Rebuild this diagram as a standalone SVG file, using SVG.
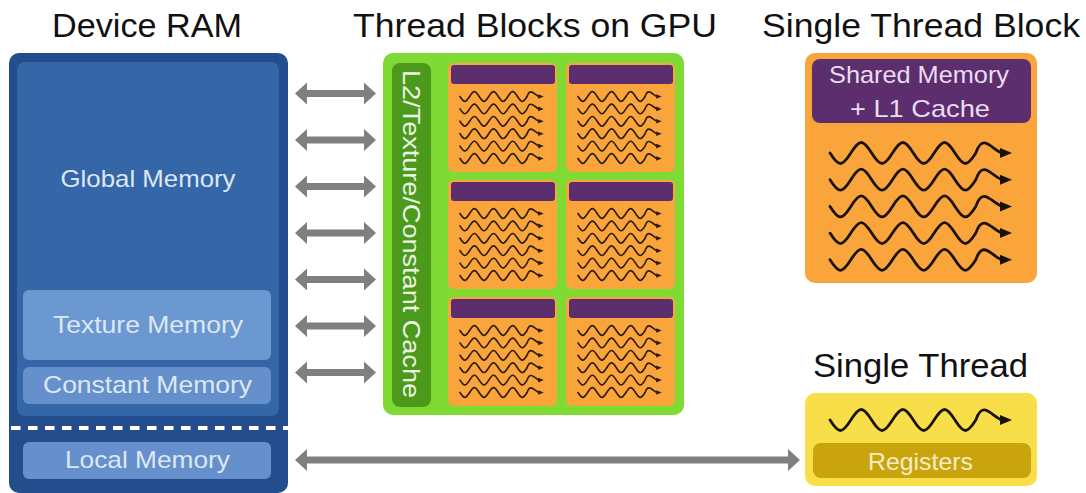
<svg xmlns="http://www.w3.org/2000/svg" xmlns:xlink="http://www.w3.org/1999/xlink" width="1086" height="493" viewBox="0 0 1086 493">
  <style>
    .title { font-family: "Liberation Sans", "DejaVu Sans", sans-serif; font-size: 34px; fill: #111; text-anchor: middle; }
    .lbl { font-family: "Liberation Sans", "DejaVu Sans", sans-serif; font-size: 24px; text-anchor: middle; }
    .mem-label { fill: #dde7f5; }
    .ram-outer { fill: #234d8c; }
    .ram-inner { fill: #3566a8; }
    .ram-sub { fill: #6b98d0; }
    .gpu { fill: #80da34; }
    .l2 { fill: #4c9a1c; }
    .blk { fill: #f9a53c; }
    .shm { fill: #5c2e6e; }
    .thread-big { stroke: #1a120a; stroke-width: 2.8; fill: #1a120a; }
    .thread-small { stroke: #2e1c0c; stroke-width: 3.6; fill: #2e1c0c; }
    .bus { fill: #7f7f7f; }
  </style>
  <defs>
    <!-- one thread: a wavy line ending in an arrowhead, origin at its left end -->
    <g id="wave">
      <path fill="none" stroke-linecap="round" d="M0,0 c8.84,14 11.99,14 20.83,0 s11.99,-14 20.83,0 s11.99,14 20.83,0 s11.99,-14 20.83,0 s11.99,14 20.83,0 s11.99,-14 20.83,0 s11.99,14 20.83,0 C153,-21 162,-3 172,0"/>
      <path stroke="none" d="M170,-5 L182,0 L170,5 Z"/>
    </g>
    <!-- short double-headed bus arrow centred on the origin -->
    <path id="bus" d="M-40.5,0 L-28.5,-11 L-28.5,-3.5 L28.5,-3.5 L28.5,-11 L40.5,0 L28.5,11 L28.5,3.5 L-28.5,3.5 L-28.5,11 Z"/>
    <!-- one thread block inside the GPU: cache bar plus six threads -->
    <g id="block">
      <rect class="blk" x="0" y="0" width="109" height="109" rx="6"/>
      <rect class="shm" x="3" y="2" width="104" height="19" rx="3"/>
      <use xlink:href="#wave" class="thread-small" transform="translate(12,33.5) scale(0.46)"/>
      <use xlink:href="#wave" class="thread-small" transform="translate(12,45.9) scale(0.46)"/>
      <use xlink:href="#wave" class="thread-small" transform="translate(12,58.3) scale(0.46)"/>
      <use xlink:href="#wave" class="thread-small" transform="translate(12,70.7) scale(0.46)"/>
      <use xlink:href="#wave" class="thread-small" transform="translate(12,83.1) scale(0.46)"/>
      <use xlink:href="#wave" class="thread-small" transform="translate(12,95.5) scale(0.46)"/>
    </g>
  </defs>

  <!-- headings -->
  <text class="title" x="147" y="37" textLength="190" lengthAdjust="spacingAndGlyphs">Device RAM</text>
  <text class="title" x="535" y="37" textLength="364" lengthAdjust="spacingAndGlyphs">Thread Blocks on GPU</text>
  <text class="title" x="921" y="37" textLength="318" lengthAdjust="spacingAndGlyphs">Single Thread Block</text>
  <text class="title" x="920.5" y="377" textLength="215" lengthAdjust="spacingAndGlyphs">Single Thread</text>

  <!-- device memory -->
  <g id="device-ram">
    <rect class="ram-outer" x="9" y="53" width="279" height="440" rx="10"/>
    <rect class="ram-inner" x="17" y="62" width="262" height="354" rx="8"/>
    <text class="lbl mem-label" x="148" y="186.5" textLength="175" lengthAdjust="spacingAndGlyphs">Global Memory</text>
    <line x1="11" y1="428" x2="288" y2="428" stroke="#ffffff" stroke-width="4" stroke-dasharray="9.5 7.5"/>
  </g>
  <g id="texture-memory">
    <rect class="ram-sub" x="23" y="290" width="248" height="70" rx="6"/>
    <text class="lbl mem-label" x="148" y="332.5" textLength="190" lengthAdjust="spacingAndGlyphs">Texture Memory</text>
  </g>
  <g id="constant-memory">
    <rect class="ram-sub" x="23" y="367" width="248" height="37" rx="6" style="fill:#6590cb"/>
    <text class="lbl mem-label" x="147.5" y="392.5" textLength="209" lengthAdjust="spacingAndGlyphs">Constant Memory</text>
  </g>
  <g id="local-memory">
    <rect class="ram-sub" x="23" y="442" width="248" height="37" rx="6" style="fill:#6590cb"/>
    <text class="lbl mem-label" x="147.5" y="468" textLength="165" lengthAdjust="spacingAndGlyphs">Local Memory</text>
  </g>

  <!-- GPU with its thread blocks -->
  <g id="gpu">
    <rect class="gpu" x="383" y="53" width="301" height="362" rx="10"/>
  </g>
  <g id="l2-cache">
    <rect class="l2" x="392" y="63" width="39" height="344" rx="8"/>
    <text class="lbl" fill="#eef5e6" transform="translate(403,234) rotate(90)" textLength="328" lengthAdjust="spacingAndGlyphs">L2/Texture/Constant Cache</text>
  </g>
  <g id="block-1-1"><use xlink:href="#block" x="448" y="63"/></g>
  <g id="block-1-2"><use xlink:href="#block" x="566" y="63"/></g>
  <g id="block-2-1"><use xlink:href="#block" x="448" y="180"/></g>
  <g id="block-2-2"><use xlink:href="#block" x="566" y="180"/></g>
  <g id="block-3-1"><use xlink:href="#block" x="448" y="297"/></g>
  <g id="block-3-2"><use xlink:href="#block" x="566" y="297"/></g>

  <!-- enlarged thread block -->
  <g id="single-thread-block">
    <rect class="blk" x="805" y="53" width="232" height="230" rx="10"/>
    <rect class="shm" x="812" y="59" width="219" height="64" rx="8"/>
    <text class="lbl" fill="#eadcf2" x="919" y="83" textLength="180" lengthAdjust="spacingAndGlyphs">Shared Memory</text>
    <text class="lbl" fill="#eadcf2" x="920" y="117" textLength="140" lengthAdjust="spacingAndGlyphs">+ L1 Cache</text>
    <use xlink:href="#wave" class="thread-big" transform="translate(830,153)"/>
    <use xlink:href="#wave" class="thread-big" transform="translate(830,179.7)"/>
    <use xlink:href="#wave" class="thread-big" transform="translate(830,206.4)"/>
    <use xlink:href="#wave" class="thread-big" transform="translate(830,233.1)"/>
    <use xlink:href="#wave" class="thread-big" transform="translate(830,259.8)"/>
  </g>

  <!-- single thread with its registers -->
  <g id="single-thread">
    <rect x="805" y="393" width="232" height="93" rx="10" fill="#f8df4a"/>
    <use xlink:href="#wave" class="thread-big" transform="translate(830,420)"/>
    <rect x="813" y="443" width="218" height="35" rx="8" fill="#c9a40c"/>
    <text class="lbl" fill="#f4edc9" x="920.5" y="470" textLength="105" lengthAdjust="spacingAndGlyphs">Registers</text>
  </g>

  <!-- memory buses -->
  <g id="connectors">
    <use xlink:href="#bus" class="bus" x="335.5" y="93.5"/>
    <use xlink:href="#bus" class="bus" x="335.5" y="140"/>
    <use xlink:href="#bus" class="bus" x="335.5" y="186.5"/>
    <use xlink:href="#bus" class="bus" x="335.5" y="233"/>
    <use xlink:href="#bus" class="bus" x="335.5" y="279.5"/>
    <use xlink:href="#bus" class="bus" x="335.5" y="326"/>
    <use xlink:href="#bus" class="bus" x="335.5" y="372.5"/>
    <path class="bus" d="M295,460 L307,449 L307,456.5 L788,456.5 L788,449 L800,460 L788,471 L788,463.5 L307,463.5 L307,471 Z"/>
  </g>
</svg>
